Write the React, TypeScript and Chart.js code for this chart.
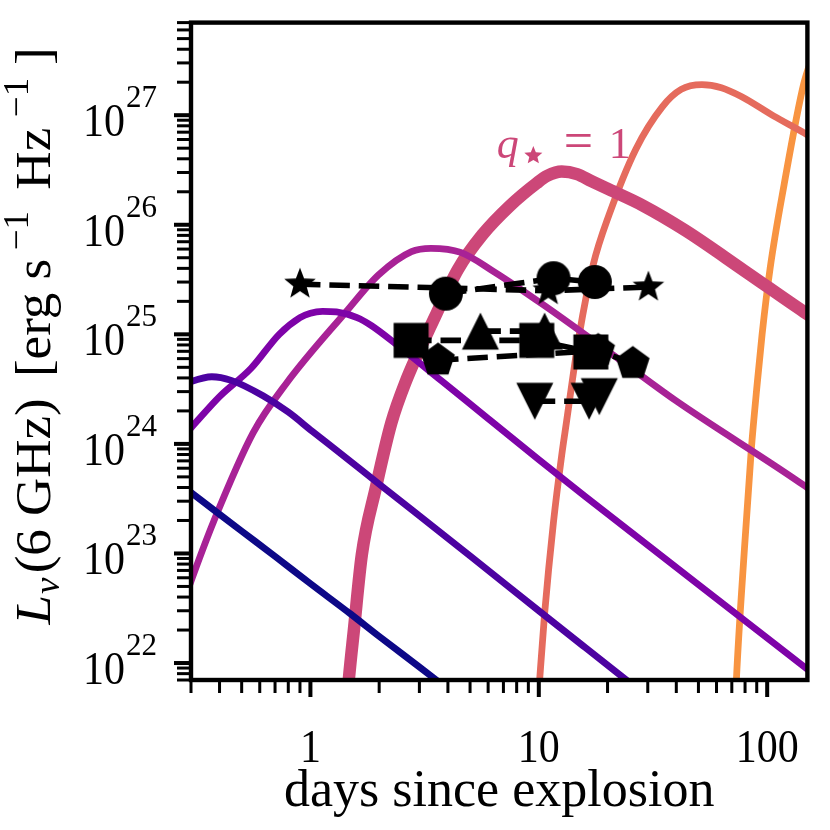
import React, { useEffect, useRef } from 'react';
import Chart from 'chart.js/auto';

type Pt = [number, number];

// axis limits
const X_MIN = 0.3;
const X_MAX = 150;
const Y_MIN = 7e21;
const Y_MAX = 7e27;

// model light curves, [days, L_nu]
const curveNavy: Pt[] = [
  [0.25, 4.8e23], [0.3, 3.6e23], [0.5, 1.6e23], [0.7, 9.4e22], [1, 5.3e22],
  [1.5, 2.8e22], [2, 1.75e22], [3, 9.2e21], [4, 5.8e21],
];
const curveIndigo: Pt[] = [
  [0.25, 3.1e24], [0.3, 3.7e24], [0.37, 4.1e24], [0.45, 3.8e24], [0.62, 2.75e24],
  [0.8, 1.95e24], [1.02, 1.3e24], [1.21, 9.85e23], [2, 4.3e23], [5, 9.5e22],
  [10, 3.0e22], [16, 1.38e22], [30, 4.9e21],
];
const curvePurple: Pt[] = [
  [0.25, 9.3e23], [0.3, 1.4e24], [0.4, 2.7e24], [0.55, 4.9e24], [0.73, 1.0e25],
  [0.9, 1.42e25], [1.0, 1.56e25], [1.13, 1.62e25], [1.3, 1.6e25], [1.6, 1.42e25],
  [1.85, 1.2e25], [2.43, 7.8e24], [3.73, 3.8e24], [6, 1.7e24], [10, 7.2e23],
  [16, 3.3e23], [50, 5.2e22], [160, 7.9e21],
];
const curveMagenta: Pt[] = [
  [0.27, 3e22], [0.308, 6.5e22], [0.377, 1.96e23], [0.561, 1.26e24], [0.787, 3.6e24],
  [1.43, 1.6e25], [1.99, 3.5e25], [2.77, 5.7e25], [3.37, 6.1e25], [4.55, 5.6e25],
  [6.4, 3.7e25], [10.5, 1.85e25], [20.3, 6.9e24], [39.6, 2.5e24], [147, 4.1e23], [160, 3.6e23],
];
const curvePink: Pt[] = [
  [1.44, 4e21], [1.475, 7.3e21], [1.55, 2e22], [1.68, 9.8e22], [1.93, 3.9e23],
  [2.26, 1.55e24], [2.6, 3.6e24], [3.51, 1.44e25], [4.42, 3.9e25], [5.66, 8.1e25],
  [7.5, 1.5e26], [9.8, 2.4e26], [10.9, 2.8e26], [12.6, 3.06e26], [14.7, 2.9e26],
  [17, 2.5e26], [20.3, 2.1e26], [28.5, 1.5e26], [43.7, 8.9e25], [79.5, 3.8e25],
  [145, 1.6e25], [160, 1.4e25],
];
const curveSalmon: Pt[] = [
  [9.9, 4e21], [10.1, 7.3e21], [10.6, 2.8e22], [11.6, 1.95e23], [12.6, 7.9e23],
  [13.2, 1.55e24], [15.0, 9.6e24], [17.3, 4.3e25], [20.3, 1.23e26], [26.6, 4.9e26],
  [34.8, 1.2e27], [42, 1.72e27], [51.8, 1.9e27], [63, 1.78e27], [77, 1.48e27],
  [107, 9.8e26], [145, 6.9e26], [160, 6.1e26],
];
const curveOrange: Pt[] = [
  [72.5, 4e21], [73.4, 7.4e21], [79.5, 1.1e23], [85.2, 8.9e23], [90.5, 3.6e24],
  [95, 1.0e25], [103, 4.0e25], [118.5, 2.3e26], [144.7, 1.95e27], [160, 3.7e27],
];

const curves = [curveNavy, curveIndigo, curvePurple, curveMagenta, curvePink, curveSalmon, curveOrange];
const curveColors = ['#0d0887', '#4c02a1', '#7e03a8', '#a82296', '#cc4778', '#e56b5d', '#f89441'];
const curveWidths = [6.8, 6.8, 6.8, 6.8, 12.5, 6.8, 6.8];

// observed points
const stars: Pt[] = [[0.9, 2.87e25], [11.0, 2.5e25], [30.2, 2.7e25]];
const circles: Pt[] = [[3.92, 2.35e25], [11.6, 3.25e25], [17.6, 3.0e25]];
const squares: Pt[] = [[2.76, 8.8e24], [9.8, 8.8e24], [16.9, 6.9e24]];
const trisUp: Pt[] = [[5.55, 1.07e25], [10.6, 1.07e25]];
const pentagons: Pt[] = [[3.62, 5.8e24], [18.2, 7.1e24], [25.8, 5.4e24]];
const trisDown: Pt[] = [[9.6, 2.45e24], [16.6, 2.45e24], [18.4, 2.7e24]];

// ticks
const xMajorTicks = [1, 10, 100];
const xTickLabels = ['1', '10', '100'];
const xMinorTicks = [
  0.3, 0.4, 0.5, 0.6, 0.7, 0.8, 0.9,
  2, 3, 4, 5, 6, 7, 8, 9,
  20, 30, 40, 50, 60, 70, 80, 90,
];
const yMajorTicks = [1e22, 1e23, 1e24, 1e25, 1e26, 1e27];
const yTickExponents = ['22', '23', '24', '25', '26', '27'];
const yMinorDecades = [1e21, 1e22, 1e23, 1e24, 1e25, 1e26, 1e27];
const yMinorMantissas = [2, 3, 4, 5, 6, 7, 8, 9];

const labelPos: Pt = [6.55, 4.1e26];
const labelColor = '#cc4778';

const SERIF = '"Liberation Serif", "Times New Roman", serif';

function shapePath(g: CanvasRenderingContext2D, cx: number, cy: number, R: number, n: number, inner = 0) {
  const count = inner ? n * 2 : n;
  g.beginPath();
  for (let k = 0; k < count; k++) {
    const ang = -Math.PI / 2 + (k * Math.PI * 2) / count;
    const r = inner && k % 2 === 1 ? R * inner : R;
    const px = cx + r * Math.cos(ang);
    const py = cy + r * Math.sin(ang);
    if (k === 0) g.moveTo(px, py);
    else g.lineTo(px, py);
  }
  g.closePath();
}

function makeMarker(kind: string): HTMLCanvasElement {
  const c = document.createElement('canvas');
  c.width = 40;
  c.height = 40;
  const g = c.getContext('2d')!;
  const cx = 20, cy = 20;
  g.fillStyle = '#000';
  g.beginPath();
  if (kind === 'circle') {
    g.arc(cx, cy, 17, 0, Math.PI * 2);
  } else if (kind === 'square') {
    g.rect(cx - 17.5, cy - 17.5, 35, 35);
  } else if (kind === 'up') {
    g.moveTo(cx, cy - 18.5);
    g.lineTo(cx + 18.5, cy + 18.5);
    g.lineTo(cx - 18.5, cy + 18.5);
    g.closePath();
  } else if (kind === 'down') {
    g.moveTo(cx, cy + 18.5);
    g.lineTo(cx + 18.5, cy - 18.5);
    g.lineTo(cx - 18.5, cy - 18.5);
    g.closePath();
  } else if (kind === 'pentagon') {
    shapePath(g, cx, cy, 17.7, 5);
  } else if (kind === 'star') {
    shapePath(g, cx, cy, 16.6, 5, 0.42);
  }
  g.fill();
  return c;
}

function drawYTitle(ctx: CanvasRenderingContext2D, cx: number, cy: number) {
  const big = `50px ${SERIF}`;
  const small = `35px ${SERIF}`;
  const runs = [
    { t: 'L', f: `italic ${big}`, dy: 0, gap: 0 },
    { t: 'ν', f: `italic ${small}`, dy: 9, gap: 1 },
    { t: '(6 GHz)', f: big, dy: 0, gap: 4 },
    { t: '[erg s', f: big, dy: 0, gap: 20 },
    { t: '−1', f: small, dy: -22, gap: 8 },
    { t: 'Hz', f: big, dy: 0, gap: 20 },
    { t: '−1', f: small, dy: -22, gap: 10 },
    { t: ']', f: big, dy: 0, gap: 12 },
  ];
  let total = 0;
  for (const r of runs) {
    ctx.font = r.f;
    total += r.gap + ctx.measureText(r.t).width;
  }
  ctx.save();
  ctx.translate(cx, cy);
  ctx.rotate(-Math.PI / 2);
  ctx.scale(1.06, 1);
  ctx.textAlign = 'left';
  ctx.textBaseline = 'alphabetic';
  let x = -total / 2;
  for (const r of runs) {
    x += r.gap;
    ctx.font = r.f;
    ctx.fillText(r.t, x, r.dy);
    x += ctx.measureText(r.t).width;
  }
  ctx.restore();
}

const decorPlugin = {
  id: 'decor',
  afterDatasetsDraw(chart: any) {
    const { ctx, chartArea: a, scales } = chart;
    const xs = scales.x;
    const ys = scales.y;
    ctx.save();
    ctx.fillStyle = '#000';
    ctx.strokeStyle = '#000';

    // outward ticks
    for (const v of xMinorTicks) {
      const px = xs.getPixelForValue(v);
      ctx.fillRect(px - 1.5, a.bottom, 3, 13);
    }
    for (const v of xMajorTicks) {
      const px = xs.getPixelForValue(v);
      ctx.fillRect(px - 2, a.bottom, 4, 17);
    }
    for (const d of yMinorDecades) {
      for (const m of yMinorMantissas) {
        const v = d * m;
        if (v < Y_MIN * 0.999 || v > Y_MAX * 1.001) continue;
        const py = ys.getPixelForValue(v);
        ctx.fillRect(a.left - 14, py - 1.5, 14, 3);
      }
    }
    for (const v of yMajorTicks) {
      const py = ys.getPixelForValue(v);
      ctx.fillRect(a.left - 17, py - 2, 17, 4);
    }

    // frame
    ctx.lineWidth = 4.4;
    ctx.strokeRect(a.left, a.top, a.right - a.left, a.bottom - a.top);

    // y tick labels 10^n
    ctx.textBaseline = 'alphabetic';
    ctx.textAlign = 'left';
    const right = a.left - 34;
    yMajorTicks.forEach((v, i) => {
      const py = ys.getPixelForValue(v);
      ctx.font = `31px ${SERIF}`;
      const wSup = ctx.measureText(yTickExponents[i]).width;
      ctx.fillText(yTickExponents[i], right - wSup, py - 8);
      ctx.font = `42px ${SERIF}`;
      const w10 = ctx.measureText('10').width;
      ctx.save();
      ctx.translate(right - wSup - w10 - 1, py + 21);
      ctx.scale(1, 1.12);
      ctx.fillText('10', 0, 0);
      ctx.restore();
    });

    // x tick labels
    ctx.textAlign = 'center';
    ctx.font = `42px ${SERIF}`;
    xMajorTicks.forEach((v, i) => {
      const px = xs.getPixelForValue(v);
      ctx.save();
      ctx.translate(px, a.bottom + 82);
      ctx.scale(1, 1.12);
      ctx.fillText(xTickLabels[i], 0, 0);
      ctx.restore();
    });

    // axis titles
    ctx.font = `52px ${SERIF}`;
    ctx.fillText('days since explosion', (a.left + a.right) / 2, a.bottom + 126);
    drawYTitle(ctx, 50, 336);

    // curve label q* = 1
    const lx = xs.getPixelForValue(labelPos[0]);
    const ly = ys.getPixelForValue(labelPos[1]);
    ctx.fillStyle = labelColor;
    ctx.textAlign = 'left';
    ctx.font = `italic 44px ${SERIF}`;
    ctx.fillText('q', lx, ly);
    shapePath(ctx, lx + 36.5, ly - 2, 9.5, 5, 0.45);
    ctx.fill();
    ctx.font = `52px ${SERIF}`;
    ctx.fillText('=', lx + 67, ly);
    ctx.font = `44px ${SERIF}`;
    ctx.fillText('1', lx + 112, ly);

    ctx.restore();
  },
};

export default function App() {
  const canvasRef = useRef<HTMLCanvasElement | null>(null);
  const chartRef = useRef<Chart | null>(null);

  useEffect(() => {
    const canvas = canvasRef.current;
    if (!canvas) return;

    const markers = {
      star: makeMarker('star'),
      circle: makeMarker('circle'),
      square: makeMarker('square'),
      up: makeMarker('up'),
      pentagon: makeMarker('pentagon'),
      down: makeMarker('down'),
    };

    const markerSet = (pts: Pt[], style: HTMLCanvasElement) => ({
      data: pts.map(([x, y]) => ({ x, y })),
      borderColor: '#000',
      backgroundColor: '#000',
      borderWidth: 5.6,
      borderDash: [20.5, 8.9],
      pointStyle: style,
      pointRadius: 17,
      tension: 0,
      clip: 0,
      order: 0,
    });

    const curveSets = curves.map((c, i) => ({
      data: c.map(([x, y]) => ({ x, y })),
      borderColor: curveColors[i],
      borderWidth: curveWidths[i],
      borderJoinStyle: 'round' as const,
      pointRadius: 0,
      cubicInterpolationMode: 'monotone' as const,
      clip: 0,
      order: 1,
    }));

    chartRef.current = new Chart(canvas, {
      type: 'line',
      data: {
        datasets: [
          markerSet(trisDown, markers.down),
          markerSet(pentagons, markers.pentagon),
          markerSet(trisUp, markers.up),
          markerSet(squares, markers.square),
          markerSet(circles, markers.circle),
          markerSet(stars, markers.star),
          ...curveSets,
        ] as any,
      },
      options: {
        responsive: false,
        animation: false,
        layout: { padding: { left: 191, right: 16, top: 16, bottom: 150 } },
        plugins: { legend: { display: false }, tooltip: { enabled: false } },
        scales: {
          x: { type: 'logarithmic', min: X_MIN, max: X_MAX, display: false, bounds: 'data' },
          y: { type: 'logarithmic', min: Y_MIN, max: Y_MAX, display: false, bounds: 'data' },
        },
      },
      plugins: [decorPlugin],
    });

    return () => {
      chartRef.current?.destroy();
      chartRef.current = null;
    };
  }, []);

  return (
    <div style={{ position: 'fixed', left: 0, top: 0, width: 830, height: 830, background: '#fff' }}>
      <canvas ref={canvasRef} width={830} height={830} style={{ width: 830, height: 830 }} />
    </div>
  );
}
